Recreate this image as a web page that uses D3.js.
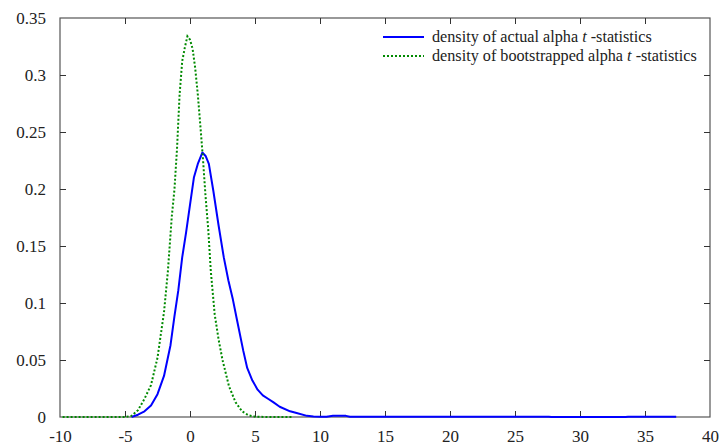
<!DOCTYPE html>
<html><head><meta charset="utf-8">
<script src="https://cdn.jsdelivr.net/npm/d3@7"></script>
<style>body{margin:0;background:#fff}svg{display:block}text{font-family:"Liberation Serif","Times New Roman",serif;fill:#222}</style>
</head><body><svg id="c" width="723" height="446"></svg>
<script>
const xTicks = [-10,-5,0,5,10,15,20,25,30,35,40];
const xTickLabels = ["-10","-5","0","5","10","15","20","25","30","35","40"];
const yTicks = [0,0.05,0.1,0.15,0.2,0.25,0.3,0.35];
const yTickLabels = ["0","0.05","0.1","0.15","0.2","0.25","0.3","0.35"];
const seriesNames = ["density of actual alpha ", "density of bootstrapped alpha "];

const actualT = [-4.5,-4,-3.5,-3,-2.5,-2,-1.5,-1.2,-0.9,-0.6,-0.3,0,0.3,0.6,0.95,1.2,1.45,1.8,2.2,2.6,2.95,3.3,3.6,4.1,4.4,4.8,5.2,5.6,6.0,6.4,6.9,7.7,8.2,9.0,9.5,10,10.5,11,12,12.3,15,20,25,27.6,27.8,33.5,33.7,37.4];
const actualY = [0,0.002,0.005,0.01,0.02,0.036,0.063,0.088,0.111,0.14,0.162,0.186,0.21,0.222,0.232,0.229,0.222,0.198,0.168,0.14,0.12,0.103,0.086,0.058,0.043,0.032,0.024,0.019,0.016,0.013,0.009,0.005,0.0035,0.001,0.0005,0.0003,0.0003,0.001,0.001,0.0003,0.0003,0.0003,0.0003,0.0003,0,0,0.0003,0.0003];

const bootT = [-9.8,-5,-4.5,-4,-3.5,-3,-2.5,-2,-1.7,-1.4,-1.2,-1,-0.8,-0.6,-0.4,-0.2,0,0.2,0.4,0.6,0.8,1.0,1.2,1.4,1.6,1.9,2.2,2.5,3.0,3.5,4.0,4.5,5.0,6.0,7.95];
const bootY = [0,0,0.001,0.006,0.016,0.028,0.052,0.092,0.128,0.176,0.199,0.235,0.283,0.312,0.324,0.334,0.331,0.323,0.306,0.283,0.255,0.226,0.193,0.165,0.128,0.09,0.068,0.05,0.027,0.013,0.005,0.0015,0.0003,0,0];

const svg = d3.select("#c");
const L = 60, R = 710, T = 18, B = 417;
const x = d3.scaleLinear().domain([-10,40]).range([L,R]);
const y = d3.scaleLinear().domain([0,0.35]).range([B,T]);

const tk = 6;
const g = svg.append("g");
g.append("rect").attr("x",L).attr("y",T).attr("width",R-L).attr("height",B-T)
 .attr("fill","none").attr("stroke","#555").attr("stroke-width",1.2);

const xb = svg.append("g").attr("transform",`translate(0,${B})`)
  .call(d3.axisBottom(x).tickValues(xTicks).tickSize(-tk).tickPadding(tk+7).tickFormat((d,i)=>xTickLabels[i]));
const xt = svg.append("g").attr("transform",`translate(0,${T})`)
  .call(d3.axisTop(x).tickValues(xTicks).tickSize(-tk).tickFormat(""));
const yl = svg.append("g").attr("transform",`translate(${L},0)`)
  .call(d3.axisLeft(y).tickValues(yTicks).tickSize(-tk).tickPadding(tk+8).tickFormat((d,i)=>yTickLabels[i]));
const yr = svg.append("g").attr("transform",`translate(${R},0)`)
  .call(d3.axisRight(y).tickValues(yTicks).tickSize(-tk).tickFormat(""));
[xb,xt,yl,yr].forEach(a=>{
  a.attr("font-family",null);
  a.select(".domain").remove();
  a.selectAll(".tick line").attr("stroke","#333").attr("stroke-width",1);
  a.selectAll("text").style("font-family","'Liberation Serif','Times New Roman',serif").style("font-size","17px").attr("fill","#222");
});
xb.selectAll(".tick").filter(d=>d===-10||d===40).select("line").remove();
xt.selectAll(".tick").filter(d=>d===-10||d===40).select("line").remove();
yl.selectAll(".tick").filter(d=>d===0||d===0.35).select("line").remove();
yr.selectAll(".tick").filter(d=>d===0||d===0.35).select("line").remove();
xb.selectAll("text").attr("dy","0.71em");

const line = d3.line().x(d=>x(d[0])).y(d=>y(d[1]));
const actual = actualT.map((t,i)=>[t,actualY[i]]);
const boot = bootT.map((t,i)=>[t,bootY[i]]);

svg.append("path").datum(actual).attr("d",line).attr("fill","none")
  .attr("stroke","#0000ff").attr("stroke-width",2).attr("stroke-linejoin","round");
svg.append("path").datum(boot).attr("d",line).attr("fill","none")
  .attr("stroke","#008a00").attr("stroke-width",2).attr("stroke-dasharray","2,2");

const leg = svg.append("g");
const rows = [{y:37, color:"#0000ff", dash:null},{y:56, color:"#008a00", dash:"2,2"}];
rows.forEach((r,i)=>{
  leg.append("line").attr("x1",383).attr("x2",424).attr("y1",r.y).attr("y2",r.y)
    .attr("stroke",r.color).attr("stroke-width",2).attr("stroke-dasharray",r.dash);
  const t = leg.append("text").attr("x",432).attr("y",r.y+5).style("font-size","16.2px");
  t.append("tspan").text(seriesNames[i]);
  t.append("tspan").style("font-style","italic").text("t");
  t.append("tspan").text(" -statistics");
});
</script></body></html>
